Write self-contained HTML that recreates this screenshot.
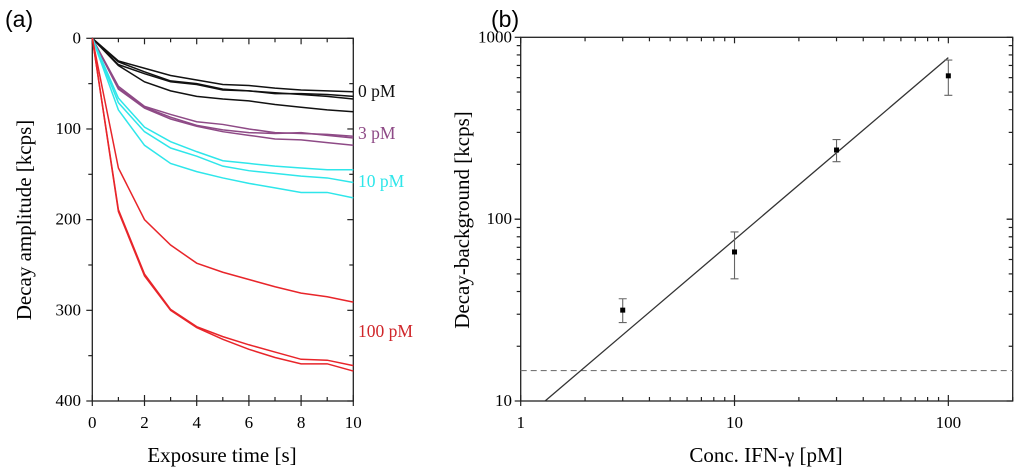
<!DOCTYPE html>
<html><head><meta charset="utf-8"><style>
body{margin:0;background:#fff;}
svg{display:block;font-family:"Liberation Serif",serif;}
</style></head><body>
<svg id="fig" width="1024" height="475" viewBox="0 0 1024 475">
<text x="5" y="27" font-family="Liberation Sans, sans-serif" font-size="23">(a)</text>
<text x="491" y="27" font-family="Liberation Sans, sans-serif" font-size="23">(b)</text>
<g id="pa"></g>
<g id="pb"></g>
<text x="222" y="462" font-size="21" text-anchor="middle">Exposure time [s]</text>
<text transform="translate(31,220) rotate(-90)" font-size="21" text-anchor="middle">Decay amplitude [kcps]</text>
<text x="766" y="462" font-size="21" text-anchor="middle">Conc. IFN-γ [pM]</text>
<text transform="translate(469,220) rotate(-90)" font-size="21" text-anchor="middle">Decay-background [kcps]</text>
</svg>
<script>
// Panel (a) data
const times = [0,1,2,3,4,5,6,7,8,9,10];
const black1 = [0,25,33,41,46,51,52,55,57,58,59];
const black2 = [0,26,37,47,50,56,58,61,61,62,64];
const black3 = [0,29,39,48,51,57,58,60,62,64,67];
const black4 = [0,30,48,58,64,67,69,73,76,79,81];
const purple1 = [0,53,75,84,92,95,100,104,105,106,108];
const purple2 = [0,55,76,87,96,101,104,105,104,107,110];
const purple3 = [0,56,77,89,97,103,107,111,112,115,118];
const cyan1 = [0,66,98,114,125,135,138,141,143,145,145];
const cyan2 = [0,71,103,121,130,141,146,149,152,154,159];
const cyan3 = [0,79,118,138,147,154,160,165,170,170,176];
const red1 = [0,143,200,228,248,258,266,274,281,285,291];
const red2 = [0,189,260,299,318,329,338,346,354,355,361];
const red3 = [0,191,262,300,319,332,343,352,359,359,367];
const aYTicks = [0,100,200,300,400];
const aXTicks = [0,2,4,6,8,10];
const groupLabels = ["0 pM","3 pM","10 pM","100 pM"];
// Panel (b) data
const conc = [3,10,30,100];
const signal = [31.6,66,240,614];
const errHi = [36.5,85,274,750];
const errLo = [27,47,207,480];
const fitX = [1.3,100];
const fitY = [10,773];
const blankLevel = [14.7];
const bXTicks = [1,10,100];
const bYTicks = [10,100,1000];

const NS="http://www.w3.org/2000/svg";
function mk(parent,tag,attrs){const e=document.createElementNS(NS,tag);for(const k in attrs)e.setAttribute(k,attrs[k]);parent.appendChild(e);return e;}

// Panel a
const A={x0:92.3,x1:353.3,y0:38.3,y1:401};
const ax=t=>A.x0+(t/10)*(A.x1-A.x0);
const ay=v=>A.y0+(v/400)*(A.y1-A.y0);
const pa=document.getElementById('pa');
let r=mk(pa,'rect',{x:A.x0,y:A.y0,width:A.x1-A.x0,height:A.y1-A.y0,fill:'none',stroke:'#222','stroke-width':1.3});

for(let t=0;t<=10;t++){const maj=t%2===0;const x=ax(t);
 let l=mk(pa,'line',{x1:x,x2:x,y1:A.y1-(maj?6:4),y2:A.y1+(maj?5:0),stroke:'#222','stroke-width':1.2});
 
 l=mk(pa,'line',{x1:x,x2:x,y1:A.y0,y2:A.y0+(maj?6:4),stroke:'#222','stroke-width':1.2});
 }
aXTicks.forEach(t=>{const tx=mk(pa,'text',{x:ax(t),y:428,'font-size':17,'text-anchor':'middle'});tx.textContent=t;
 });
for(let v=0;v<=400;v+=50){const maj=v%100===0;const y=ay(v);
 let l=mk(pa,'line',{x1:A.x0-(maj?6:4),x2:A.x0,y1:y,y2:y,stroke:'#222','stroke-width':1.2});
 
 l=mk(pa,'line',{x1:A.x1-(maj?6:4),x2:A.x1,y1:y,y2:y,stroke:'#222','stroke-width':1.2});
 }
aYTicks.forEach(v=>{const tx=mk(pa,'text',{x:81,y:ay(v)+5,'font-size':17,'text-anchor':'end'});tx.textContent=v;
 });
const seriesA=[[black1,'#111','black'],[black2,'#111','black'],[black3,'#111','black'],[black4,'#111','black'],
[purple1,'#8e4a86','purple'],[purple2,'#8e4a86','purple'],[purple3,'#8e4a86','purple'],
[cyan1,'#2ee6ea','cyan'],[cyan2,'#2ee6ea','cyan'],[cyan3,'#2ee6ea','cyan'],
[red1,'#e8252a','red'],[red2,'#e8252a','red'],[red3,'#e8252a','red']];
seriesA.forEach(([d,c,n],i)=>{const p=mk(pa,'polyline',{points:d.map((v,j)=>ax(times[j])+','+ay(v)).join(' '),fill:'none',stroke:c,'stroke-width':1.5});
 });
const lblCol=['#111','#8e4a86','#2ee6ea','#d0262a'];const lblY=[97,139,187,337];
groupLabels.forEach((s,i)=>{const tx=mk(pa,'text',{x:358,y:lblY[i],'font-size':17.5,fill:lblCol[i]});tx.textContent=s;
 });

// Panel b
const B={x0:520.7,x1:1012.7,y0:37.3,y1:401};
const bx=v=>B.x0+Math.log10(v)/Math.log10(200)*(B.x1-B.x0);
const by=v=>B.y1-(Math.log10(v)-1)/2*(B.y1-B.y0);
const pb=document.getElementById('pb');
r=mk(pb,'rect',{x:B.x0,y:B.y0,width:B.x1-B.x0,height:B.y1-B.y0,fill:'none',stroke:'#222','stroke-width':1.3});

for(let d=1;d<=100;d*=10)for(let m=1;m<=9;m++){const v=d*m;if(v>200)break;const x=bx(v);const maj=m===1;
 let l=mk(pb,'line',{x1:x,x2:x,y1:B.y1-(maj?6:4),y2:B.y1+(maj?5:0),stroke:'#222','stroke-width':1.2});
 
 l=mk(pb,'line',{x1:x,x2:x,y1:B.y0,y2:B.y0+(maj?6:4),stroke:'#222','stroke-width':1.2});
 }
bXTicks.forEach(v=>{const tx=mk(pb,'text',{x:bx(v),y:428,'font-size':17,'text-anchor':'middle'});tx.textContent=v;
 });
for(let d=10;d<=100;d*=10)for(let m=1;m<=10;m++){const v=d*m;const y=by(v);const maj=(m===1||m===10);
 let l=mk(pb,'line',{x1:B.x0-(maj?6:4),x2:B.x0,y1:y,y2:y,stroke:'#222','stroke-width':1.2});
 
 l=mk(pb,'line',{x1:B.x1-(maj?6:4),x2:B.x1,y1:y,y2:y,stroke:'#222','stroke-width':1.2});
 }
bYTicks.forEach(v=>{const tx=mk(pb,'text',{x:512,y:by(v)+5,'font-size':17,'text-anchor':'end'});tx.textContent=v;
 });
let dl=mk(pb,'line',{x1:B.x0,x2:B.x1,y1:by(blankLevel[0]),y2:by(blankLevel[0]),stroke:'#777','stroke-width':1.2,'stroke-dasharray':'6,4'});

let fl=mk(pb,'line',{x1:bx(fitX[0]),y1:by(fitY[0]),x2:bx(fitX[1]),y2:by(fitY[1]),stroke:'#333','stroke-width':1.3});

conc.forEach((c,i)=>{const x=bx(c);
 const e=mk(pb,'path',{d:`M${x},${by(errHi[i])}V${by(errLo[i])}M${x-4},${by(errHi[i])}H${x+4}M${x-4},${by(errLo[i])}H${x+4}`,stroke:'#666','stroke-width':1.1,fill:'none'});
 
 const p=mk(pb,'rect',{x:x-2.5,y:by(signal[i])-2.5,width:5,height:5,fill:'#000'});
 });
</script>
</body></html>
